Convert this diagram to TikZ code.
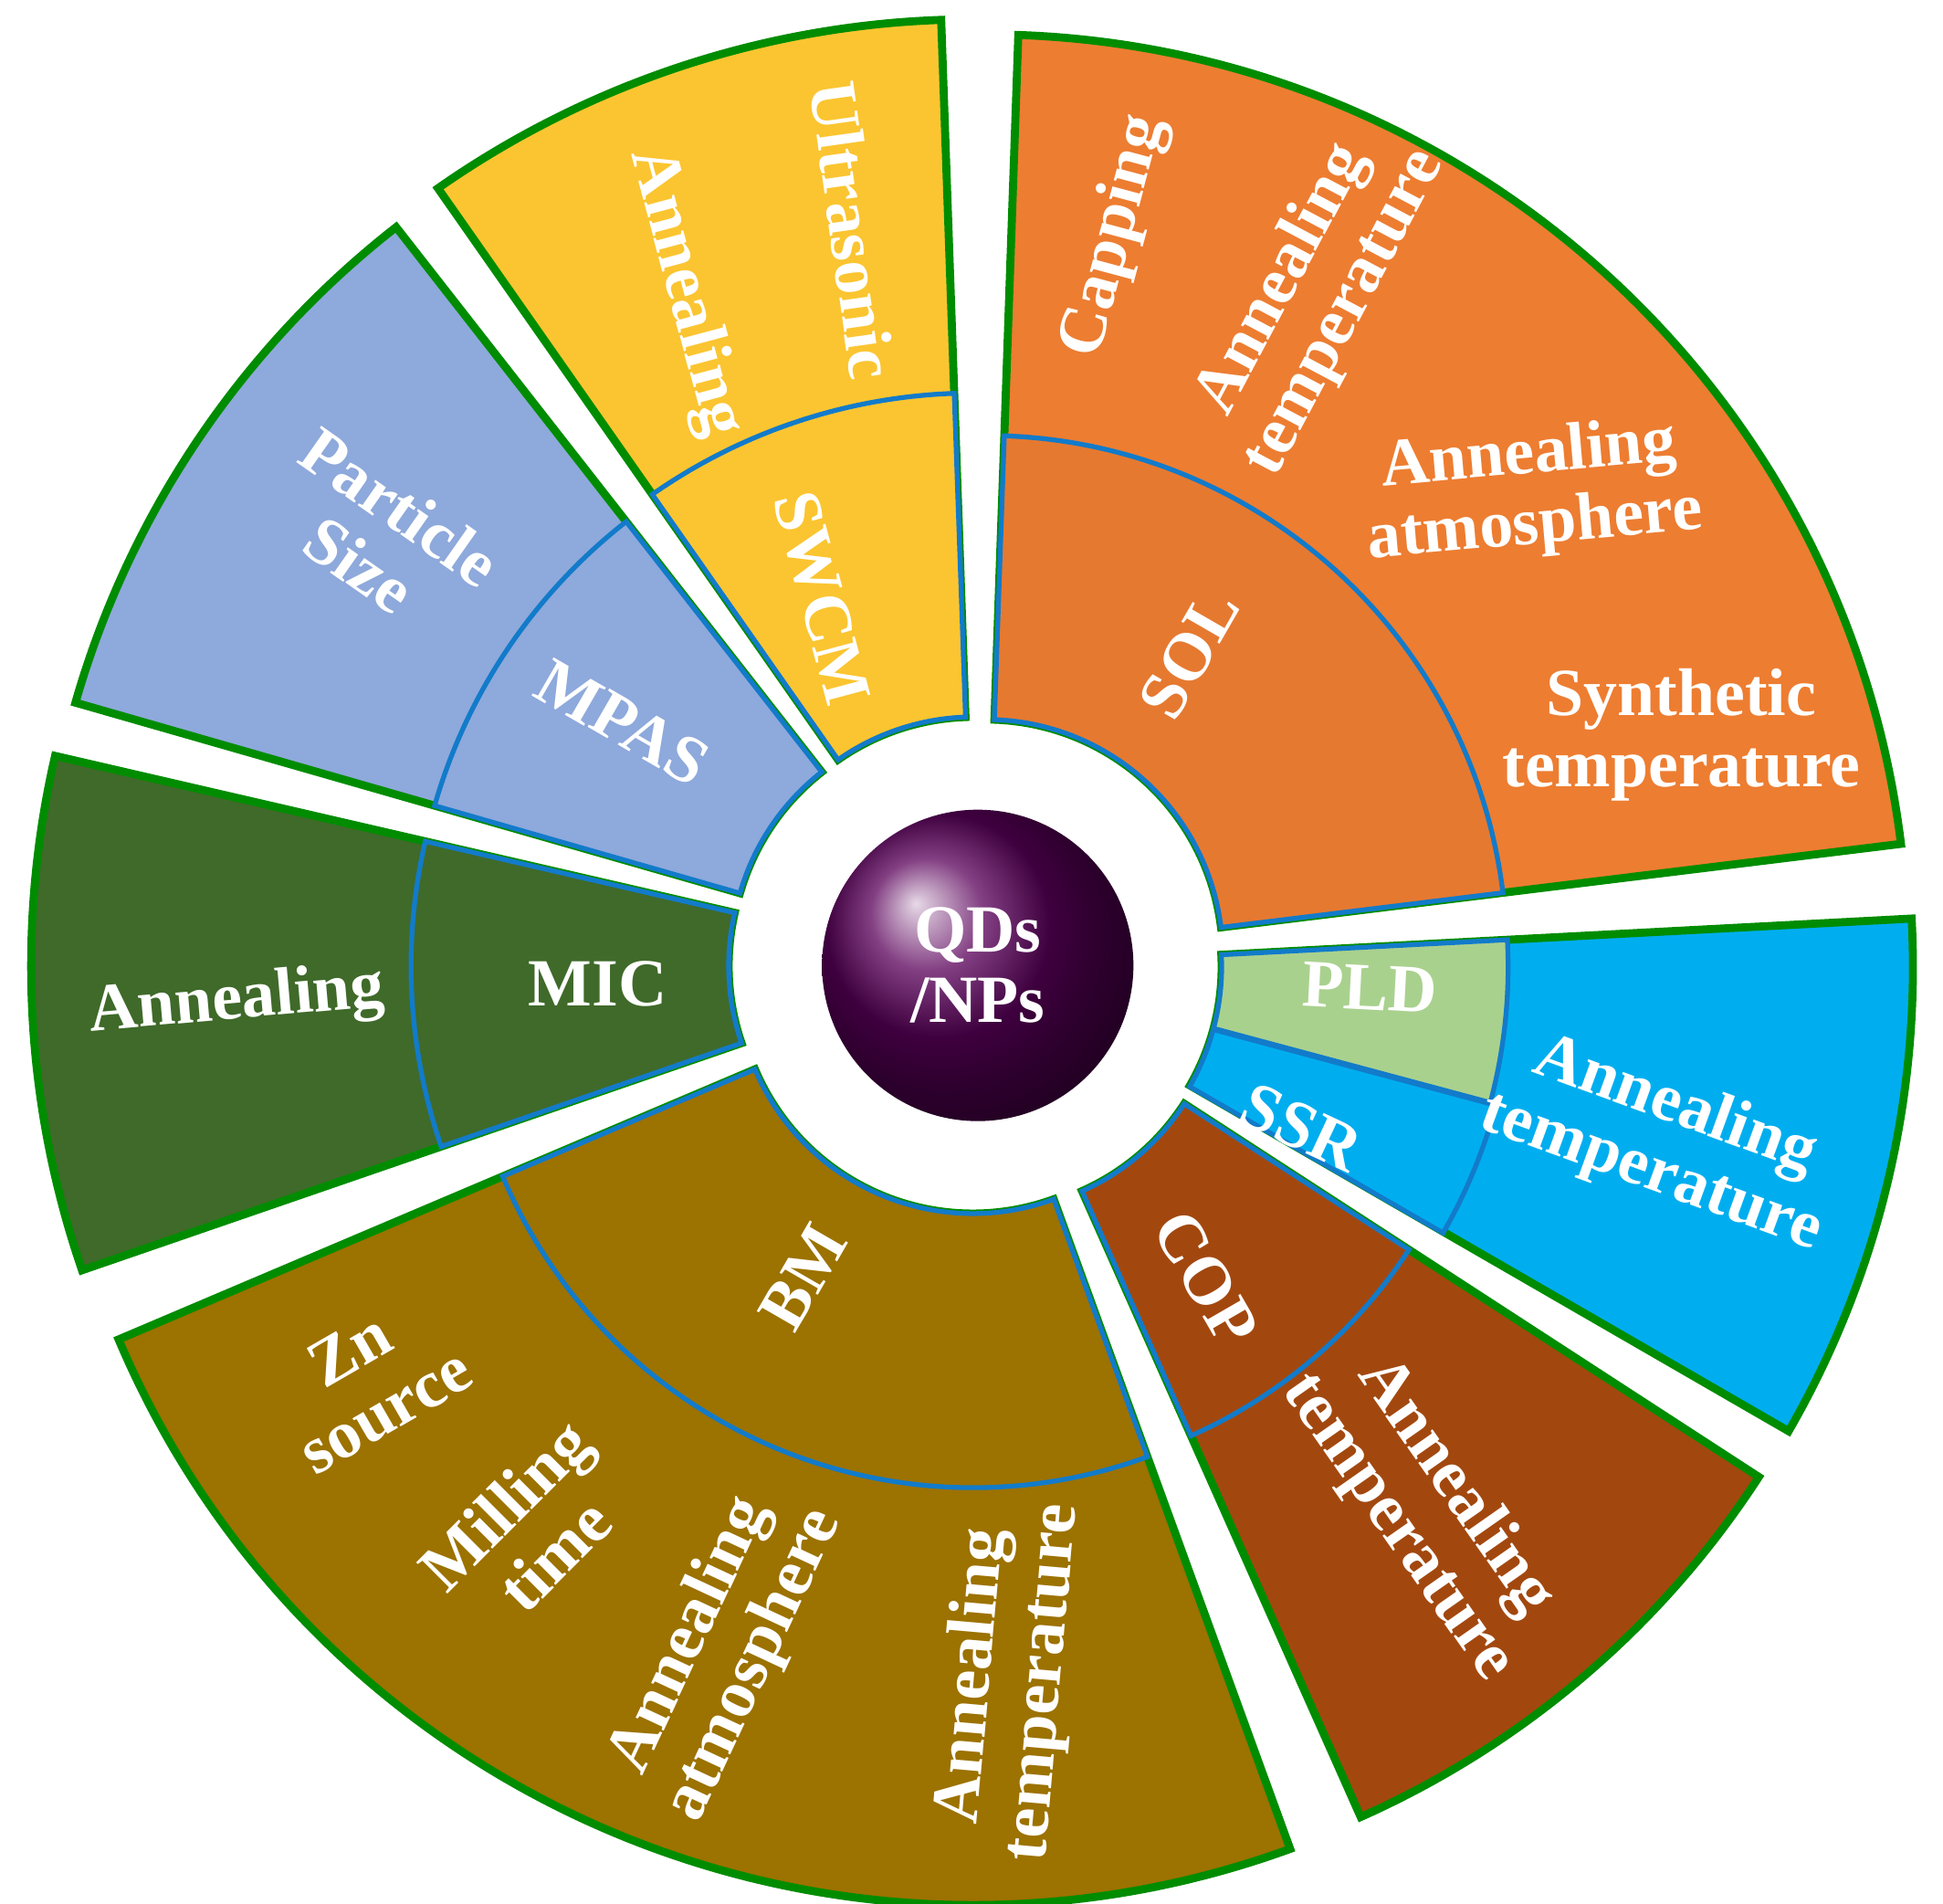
\documentclass[tikz,border=0pt]{standalone}
\usepackage{fontspec}
\setmainfont{Liberation Serif}
\begin{document}
\begin{tikzpicture}[x=0.01364cm,y=0.01364cm]
\tikzset{lab/.style={text=white,font=\fontsize{21}{22}\selectfont\bfseries,align=center,inner sep=0pt},
outer/.style={draw=green!55!black,line width=2.5pt},
inner/.style={draw=cyan!60!blue,line width=1.5pt}}
\useasboundingbox (0,0) rectangle (1560,1528);
\coordinate (C) at (785,753);
\newcommand{\sect}[7]{%
\begin{scope}[shift={(C)},shift={({(#1+#2)/2}:#7)}]
\path[#6,fill=#5] (#1:#3) arc[start angle=#1,end angle=#2,radius=#3] -- (#2:#4) arc[start angle=#2,end angle=#1,radius=#4] -- cycle;
\end{scope}}
\definecolor{csol}{HTML}{ED7D31}
\definecolor{cswcm}{HTML}{FBC531}
\definecolor{cmpas}{HTML}{8EA9DB}
\definecolor{cmic}{HTML}{3F6A2A}
\definecolor{cbm}{HTML}{9C7200}
\definecolor{ccop}{HTML}{A2480F}
\definecolor{cssr}{HTML}{00AEEF}
\definecolor{cpld}{HTML}{A9D18E}
\sect{7}{88}{190}{740}{csol}{outer}{10}
\sect{7}{88}{190}{418}{csol!97!black}{inner}{10}
\sect{92}{125}{190}{750}{cswcm}{outer}{10}
\sect{92}{125}{190}{450}{cswcm}{inner}{10}
\sect{128}{164}{190}{745}{cmpas}{outer}{10}
\sect{128}{164}{190}{445}{cmpas}{inner}{10}
\sect{167}{199}{190}{750}{cmic}{outer}{10}
\sect{167}{199}{190}{445}{cmic}{inner}{10}
\sect{203}{290}{190}{745}{cbm}{outer}{10}
\sect{203}{290}{190}{410}{cbm}{inner}{10}
\sect{294}{327}{190}{740}{ccop}{outer}{10}
\sect{294}{327}{190}{405}{ccop}{inner}{10}
\sect{330}{363}{190}{745}{cssr}{outer}{6}
\sect{330}{345}{190}{425}{cssr}{inner}{6}
\begin{scope}[shift={(C)},shift={(346.5:6)}]
\path[inner,fill=cpld] (345:190) arc[start angle=345,end angle=363,radius=190] -- (363:420) arc[start angle=363,end angle=345,radius=420] -- cycle;
\end{scope}
\fill[white] (C) circle (180);
\shade[ball color=violet!70!black] (C) circle (125);
\node[lab] (qd) at (C) {QDs\\/NPs};
\node[lab,rotate=75] (t1) at (895,1338) {Capping};
\node[lab,rotate=62] (t2) at (1055,1290) {Annealing\\temperature};
\node[lab,rotate=5] (t3) at (1230,1133) {Annealing\\atmosphere};
\node[lab] (t4) at (1350,938) {Synthetic\\temperature};
\node[lab,rotate=60] (t5) at (955,1003) {SOL};
\node[lab,rotate=-82] (t6) at (685,1343) {Ultrasonic};
\node[lab,rotate=-75] (t7) at (550,1293) {Annealing};
\node[lab,rotate=-75] (t8) at (660,1048) {SWCM};
\node[lab,rotate=-35] (t9) at (305,1098) {Particle\\Size};
\node[lab,rotate=-30] (t10) at (500,948) {MPAS};
\node[lab,rotate=5] (t11) at (190,723) {Annealing};
\node[lab] (t12) at (480,738) {MIC};
\node[lab,rotate=60] (t13) at (645,503) {BM};
\node[lab,rotate=30] (t14) at (295,420) {Zn\\source};
\node[lab,rotate=45] (t15) at (425,300) {Milling\\time};
\node[lab,rotate=65] (t16) at (580,203) {Annealing\\atmosphere};
\node[lab,rotate=85] (t17) at (810,180) {Annealing\\temperature};
\node[lab,rotate=-60] (t18) at (968,502) {COP};
\node[lab,rotate=-55] (t19) at (1145,318) {Annealing\\temperature};
\node[lab,rotate=-25] (t20) at (1045,623) {SSR};
\node[lab,rotate=-20] (t21) at (1335,613) {Annealing\\temperature};
\node[lab,rotate=-3] (t22) at (1100,735) {PLD};
\end{tikzpicture}
\end{document}
